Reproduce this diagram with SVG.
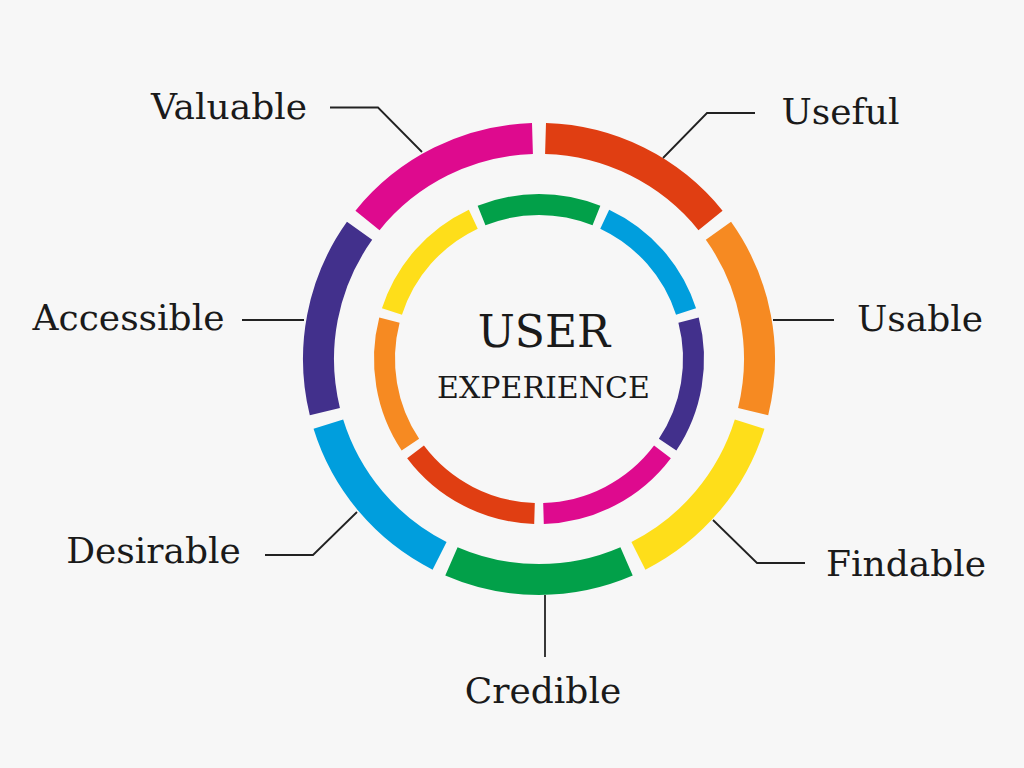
<svg xmlns="http://www.w3.org/2000/svg" width="1024" height="768" viewBox="0 0 1024 768">
  <style>
    .outer { fill: none; stroke-width: 31; stroke-linecap: butt; }
    .inner { fill: none; stroke-width: 21; stroke-linecap: butt; }
    .conn { fill: none; stroke: #222; stroke-width: 1.8; stroke-linejoin: miter; }
    .lbl { font-family: "DejaVu Serif", "Liberation Serif", serif; font-size: 36px; fill: #1a1a1a; text-anchor: middle; }
    .c1 { font-family: "DejaVu Serif", "Liberation Serif", serif; font-size: 44px; fill: #1a1a1a; text-anchor: middle; }
    .c2 { font-family: "DejaVu Serif", "Liberation Serif", serif; font-size: 30px; fill: #1a1a1a; text-anchor: middle; }
  </style>
  <rect width="1024" height="768" fill="#f7f7f7"/>

  <g id="outer-ring">
    <path id="seg-useful" class="outer" stroke="#e03e12" d="M545.54,138.60 A220.5,220.5 0 0 1 710.51,220.42"/>
    <path id="seg-usable" class="outer" stroke="#f68a22" d="M718.43,230.84 A220.5,220.5 0 0 1 753.13,411.60"/>
    <path id="seg-findable" class="outer" stroke="#fede1a" d="M749.64,424.20 A220.5,220.5 0 0 1 638.42,555.82"/>
    <path id="seg-credible" class="outer" stroke="#02a049" d="M626.57,561.36 A220.5,220.5 0 0 1 451.43,561.36"/>
    <path id="seg-desirable" class="outer" stroke="#009edd" d="M439.58,555.82 A220.5,220.5 0 0 1 328.36,424.20"/>
    <path id="seg-accessible" class="outer" stroke="#42308c" d="M324.87,411.60 A220.5,220.5 0 0 1 359.57,230.84"/>
    <path id="seg-valuable" class="outer" stroke="#de0a8e" d="M367.49,220.42 A220.5,220.5 0 0 1 532.46,138.60"/>
  </g>

  <g id="inner-ring">
    <path class="inner" stroke="#02a049" d="M481.55,215.58 A154.5,154.5 0 0 1 596.45,215.58"/>
    <path class="inner" stroke="#009edd" d="M604.71,219.17 A154.5,154.5 0 0 1 686.04,311.58"/>
    <path class="inner" stroke="#42308c" d="M688.56,320.24 A154.5,154.5 0 0 1 667.62,444.59"/>
    <path class="inner" stroke="#de0a8e" d="M662.46,451.89 A154.5,154.5 0 0 1 543.50,513.43"/>
    <path class="inner" stroke="#e03e12" d="M534.50,513.43 A154.5,154.5 0 0 1 415.54,451.89"/>
    <path class="inner" stroke="#f68a22" d="M410.38,444.59 A154.5,154.5 0 0 1 389.44,320.24"/>
    <path class="inner" stroke="#fede1a" d="M391.96,311.58 A154.5,154.5 0 0 1 473.29,219.17"/>
  </g>

  <g id="center">
    <text class="c1" x="544" y="347">USER</text>
    <text class="c2" x="543.5" y="398">EXPERIENCE</text>
  </g>

  <g id="connectors">
    <polyline class="conn" points="330,107.5 378,107.5 422,152"/>
    <polyline class="conn" points="755,113 707,113 663,158"/>
    <polyline class="conn" points="242,320 304,320"/>
    <polyline class="conn" points="773,320 834,320"/>
    <polyline class="conn" points="265,555 313,555 357,512"/>
    <polyline class="conn" points="713,520 757,563 805,563"/>
    <polyline class="conn" points="545,595 545,657"/>
  </g>

  <g id="label-valuable"><text class="lbl" x="229" y="119">Valuable</text></g>
  <g id="label-useful"><text class="lbl" x="840.5" y="124">Useful</text></g>
  <g id="label-accessible"><text class="lbl" x="128.5" y="330">Accessible</text></g>
  <g id="label-usable"><text class="lbl" x="920" y="331">Usable</text></g>
  <g id="label-desirable"><text class="lbl" x="153.5" y="563">Desirable</text></g>
  <g id="label-findable"><text class="lbl" x="906" y="576">Findable</text></g>
  <g id="label-credible"><text class="lbl" x="543" y="703">Credible</text></g>
</svg>
